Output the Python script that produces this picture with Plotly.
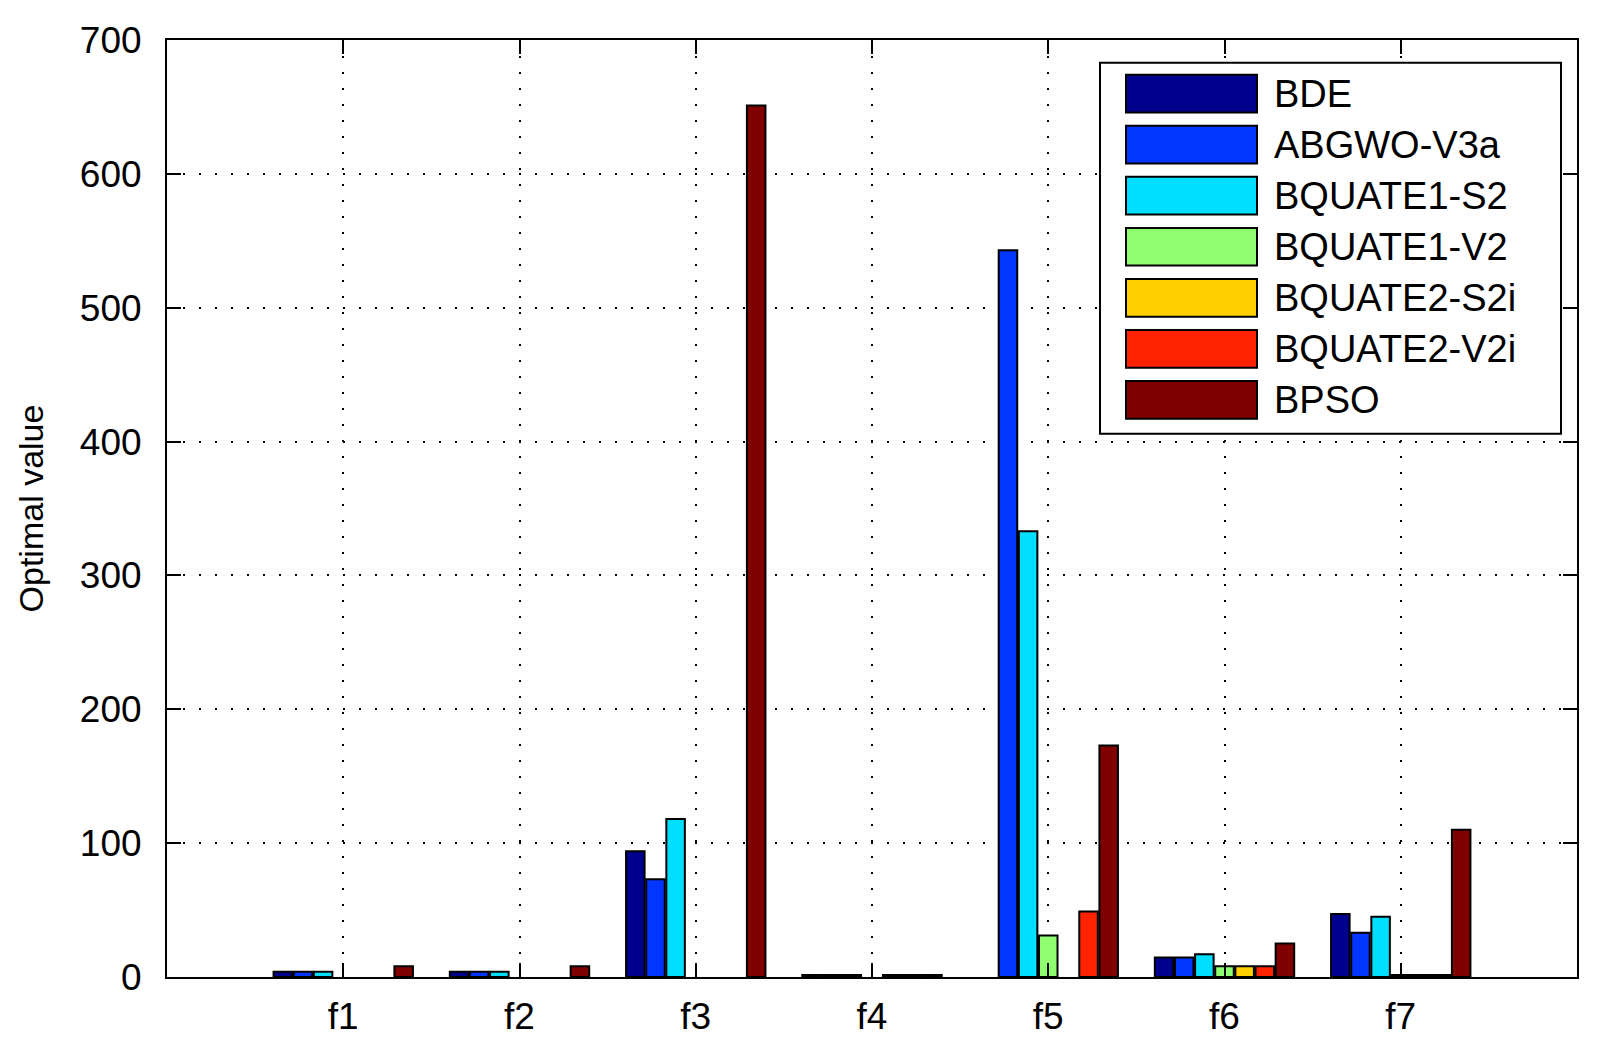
import plotly.graph_objects as go

# ---- data ----
categories = ["f1", "f2", "f3", "f4", "f5", "f6", "f7"]
x_pos = [1, 2, 3, 4, 5, 6, 7]
series_names = ["BDE", "ABGWO-V3a", "BQUATE1-S2", "BQUATE1-V2",
                "BQUATE2-S2i", "BQUATE2-V2i", "BPSO"]
bde = [4, 4, 94, 1.5, 0, 14.5, 47]
abgwo_v3a = [4, 4, 73, 1.5, 543, 14.5, 33]
bquate1_s2 = [4, 4, 118, 1.5, 333, 17, 45]
bquate1_v2 = [0, 0, 0, 0, 31, 8, 1.5]
bquate2_s2i = [0, 0, 0, 1.5, 0, 8, 1.5]
bquate2_v2i = [0, 0, 0, 1.5, 49, 8, 1.5]
bpso = [8, 8, 651, 1.5, 173, 25, 110]
series_values = [bde, abgwo_v3a, bquate1_s2, bquate1_v2, bquate2_s2i, bquate2_v2i, bpso]
colors = ["#00008F", "#0036FF", "#00DFFF", "#8FFF70", "#FFCF00", "#FF2200", "#800000"]
y_ticks = [0, 100, 200, 300, 400, 500, 600, 700]

W, H = 1617, 1047
OFF = 8  # page body margin
L, T = 167 - OFF, 32 - OFF
R, B = 40 + OFF, 70 + OFF
pw, ph = W - L - R, H - T - B

FONT = "Liberation Sans, Arial, sans-serif"

fig = go.Figure()
for name, vals, col in zip(series_names, series_values, colors):
    fig.add_trace(go.Bar(
        x=x_pos, y=vals, name=name,
        marker=dict(color=col,
                    line=dict(color="black", width=[2 if v > 0 else 0 for v in vals])),
        showlegend=False,
    ))

grid = dict(showgrid=True, gridcolor="black", gridwidth=2, griddash="2px,14px")

fig.update_layout(
    width=W, height=H,
    margin=dict(l=L, r=R, t=T, b=B),
    paper_bgcolor="white", plot_bgcolor="white",
    barmode="group", bargap=0.2, bargroupgap=0.08,
    font=dict(family=FONT, size=37, color="black"),
    xaxis=dict(
        range=[0, 8], tickmode="array", tickvals=x_pos, ticktext=categories,
        ticks="inside", ticklen=14, tickwidth=2, tickcolor="black",
        showline=True, linecolor="black", linewidth=2, mirror="ticks",
        zeroline=False, ticklabelstandoff=6, **grid,
    ),
    yaxis=dict(
        range=[0, 700], tickmode="array", tickvals=y_ticks,
        ticks="inside", ticklen=14, tickwidth=2, tickcolor="black",
        showline=True, linecolor="black", linewidth=2, mirror="ticks",
        zeroline=False, ticklabelstandoff=16,
        title=dict(text="Optimal value", font=dict(size=34), standoff=26),
        **grid,
    ),
)

# ---- legend (drawn box, MATLAB style) ----
def px_x(p):
    return (p - OFF - L) / pw

def px_y(p):
    return 1 - (p - OFF - T) / ph

fig.add_shape(type="rect", xref="paper", yref="paper",
              x0=px_x(1100), x1=px_x(1561), y0=px_y(429), y1=px_y(55),
              line=dict(color="black", width=2), fillcolor="white", layer="above")
for i, (name, col) in enumerate(zip(series_names, colors)):
    top = 67 + 51.5 * i
    fig.add_shape(type="rect", xref="paper", yref="paper",
                  x0=px_x(1126), x1=px_x(1257), y0=px_y(top + 38), y1=px_y(top),
                  line=dict(color="black", width=2), fillcolor=col, layer="above")
    fig.add_annotation(xref="paper", yref="paper", x=px_x(1272), y=px_y(top + 19),
                       text=name, showarrow=False, xanchor="left", yanchor="middle",
                       font=dict(family=FONT, size=38, color="black"))

fig.write_html("out.html")
